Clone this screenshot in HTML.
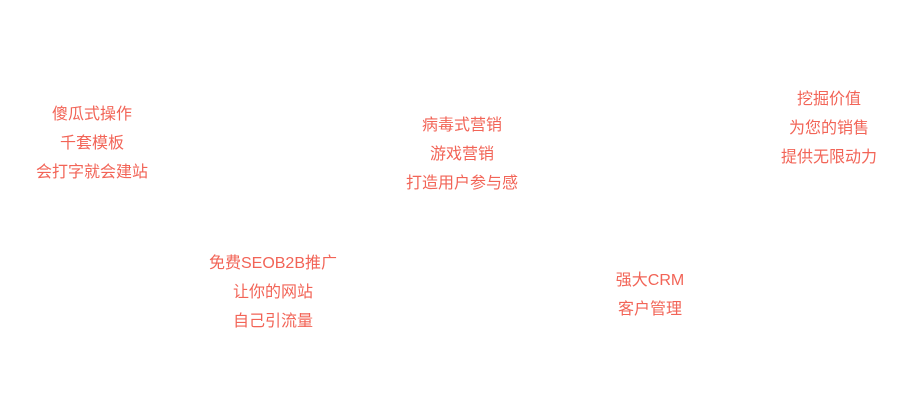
<!DOCTYPE html>
<html><head><meta charset="utf-8"><style>
body{margin:0;width:918px;height:403px;background:#fff;position:relative;overflow:hidden;font-family:"Liberation Sans","Noto Sans CJK SC",sans-serif;}
.b{position:absolute;width:240px;text-align:center;color:#f26457;font-size:16px;line-height:29px;}
</style></head><body>
<div class="b" style="left:-28px;top:100px">傻瓜式操作<br>千套模板<br>会打字就会建站</div>
<div class="b" style="left:342px;top:111px">病毒式营销<br>游戏营销<br>打造用户参与感</div>
<div class="b" style="left:709px;top:85px">挖掘价值<br>为您的销售<br>提供无限动力</div>
<div class="b" style="left:153px;top:249px">免费SEOB2B推广<br>让你的网站<br>自己引流量</div>
<div class="b" style="left:530px;top:266px">强大CRM<br>客户管理</div>
</body></html>
